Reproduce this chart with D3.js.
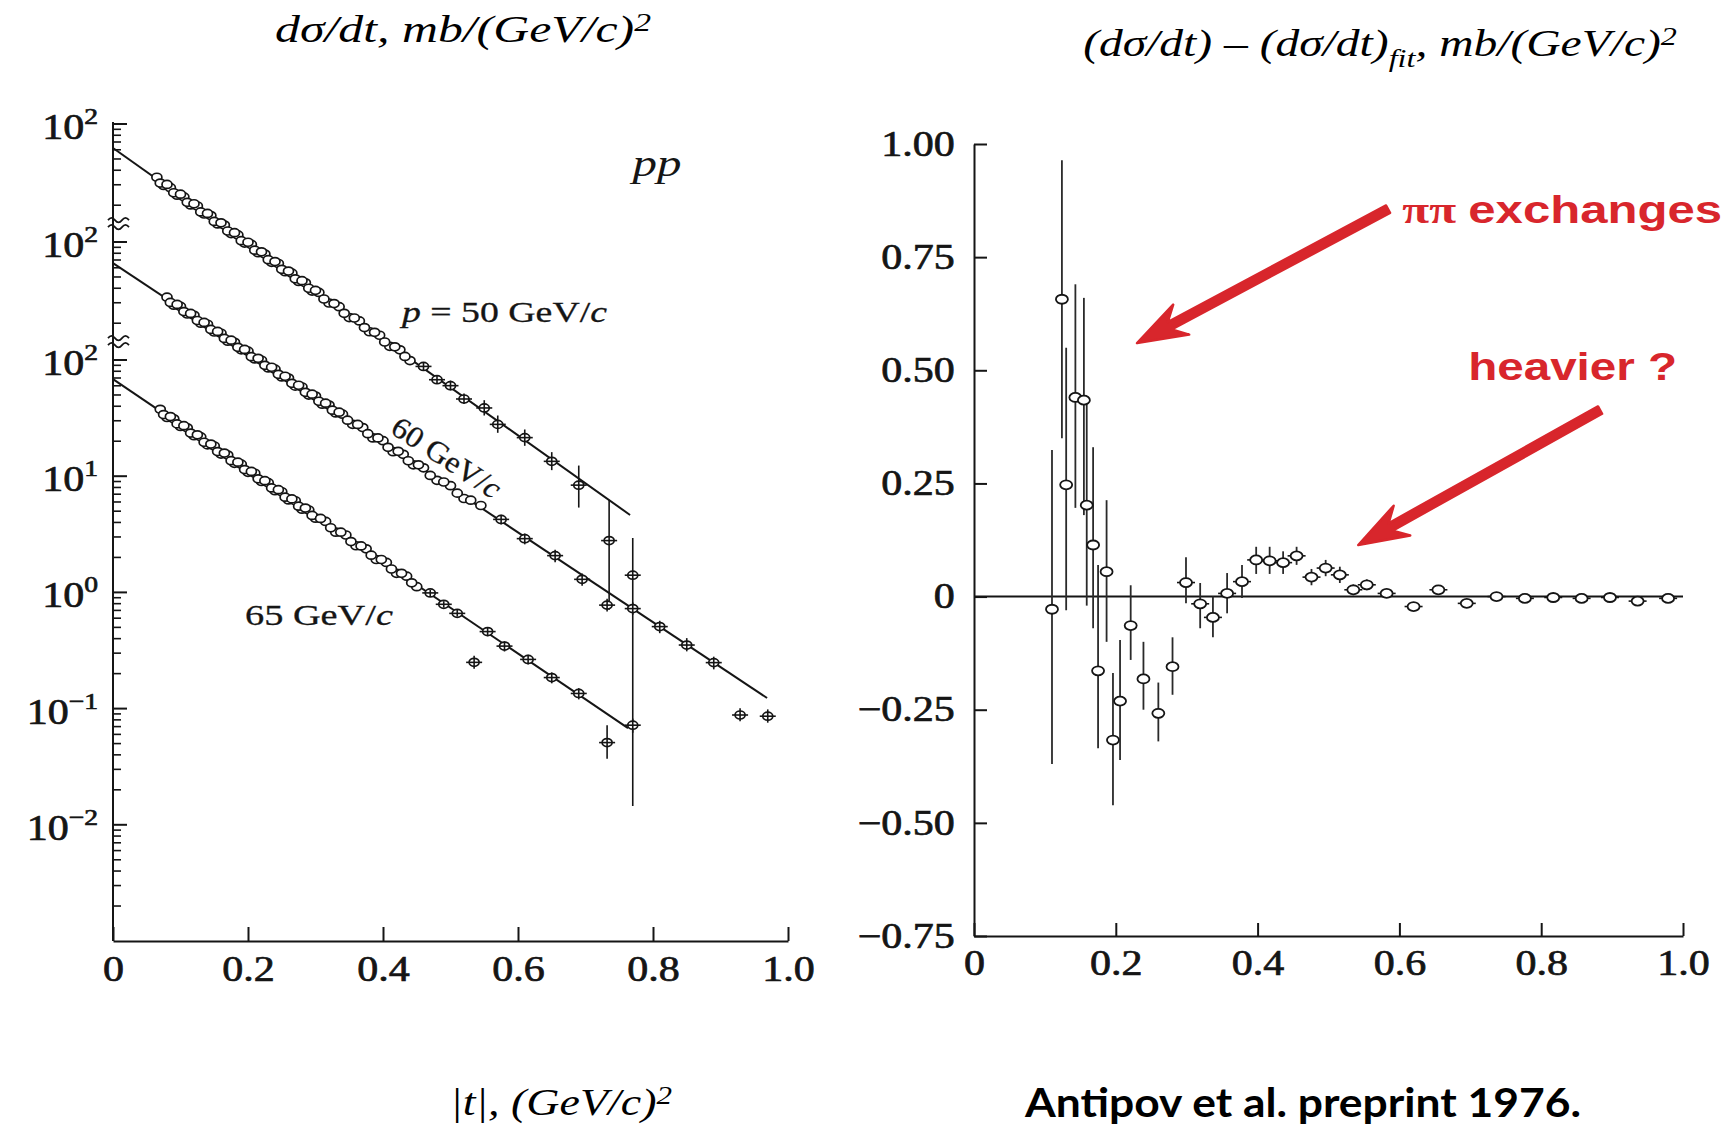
<!DOCTYPE html>
<html><head><meta charset="utf-8">
<script src="https://cdn.jsdelivr.net/npm/d3@7"></script>
<style>body{margin:0;background:#fff}svg{display:block}</style>
</head><body>
<svg id="c" width="1724" height="1128"></svg>
<script>
// ---------------- DATA ----------------
const ticksLeftX  = [0, 0.2, 0.4, 0.6, 0.8, 1.0];
const ticksRightX = [0, 0.2, 0.4, 0.6, 0.8, 1.0];
const ticksRightY = [-0.75, -0.5, -0.25, 0, 0.25, 0.5, 0.75, 1.0];
const labelExpMain = [2, 1, 0, -1, -2];   // labelled decades on the 65 GeV/c segment
const labelExpShifted = [2];              // labelled decade on the 50 and 60 GeV/c segments

// [ |t|, dσ/dt (mb/(GeV/c)^2), errLow, errHigh ]
const pp50 = [
 [0.065,34.8],[0.075,29.6],[0.085,28.3],[0.095,24.4],[0.105,23.6],[0.115,20.1],[0.125,19.7],[0.135,16.8],
 [0.145,16.3],[0.155,13.8],[0.165,13.5],[0.175,11.4],[0.185,11.1],[0.195,9.45],[0.205,9.2],[0.215,7.8],
 [0.225,7.6],[0.235,6.45],[0.245,6.3],[0.255,5.35],[0.265,5.2],[0.275,4.42],[0.285,4.3],[0.295,3.65],
 [0.305,3.55],[0.32,2.88],[0.335,2.68],[0.35,2.16],[0.365,2.02],[0.38,1.63],[0.395,1.52],[0.41,1.22],
 [0.425,1.14],[0.44,0.92],
 [0.07,31.0],[0.08,30.2],[0.09,25.6],[0.10,24.9],[0.11,21.2],[0.12,20.6],[0.13,17.5],[0.14,17.0],
 [0.15,14.5],[0.16,14.1],[0.17,12.0],[0.18,11.6],[0.19,9.9],[0.20,9.6],[0.21,8.2],[0.22,7.95],
 [0.23,6.8],[0.24,6.55],[0.25,5.62],[0.26,5.42],[0.27,4.65],[0.28,4.48],[0.29,3.86],[0.30,3.70],
 [0.3125,3.12],[0.3275,2.85],[0.3425,2.35],[0.3575,2.14],[0.3725,1.77],[0.3875,1.61],[0.4025,1.33],
 [0.4175,1.21],[0.4325,1.00],
 [0.46,0.82,0.76,0.88],[0.48,0.63,0.58,0.69],[0.50,0.56,0.51,0.62],[0.52,0.43,0.39,0.48],
 [0.55,0.36,0.31,0.42],[0.57,0.26,0.22,0.31],[0.61,0.20,0.17,0.235],[0.65,0.125,0.105,0.15],
 [0.69,0.078,0.05,0.115],[0.735,0.026,0.0066,0.058],[0.77,0.0131,0.000135,0.0274]
];
const pp60 = [
 [0.08,33.5],[0.09,28.6],[0.10,27.9],[0.11,24.0],[0.12,23.4],[0.13,20.0],[0.14,19.6],[0.15,16.8],
 [0.16,16.4],[0.17,14.0],[0.18,13.7],[0.19,11.8],[0.20,11.5],[0.21,9.85],[0.22,9.6],[0.23,8.25],
 [0.24,8.05],[0.25,6.9],[0.26,6.75],[0.27,5.75],[0.28,5.65],[0.29,4.82],[0.30,4.72],[0.31,4.02],
 [0.32,3.95],[0.33,3.38],[0.34,3.3],[0.355,2.7],[0.37,2.53],[0.385,2.06],[0.40,1.95],[0.415,1.57],
 [0.43,1.49],[0.445,1.21],[0.46,1.14],[0.48,0.89],[0.50,0.80],[0.52,0.62],[0.545,0.54],
 [0.085,30.2],[0.095,29.0],[0.105,25.2],[0.115,24.3],[0.125,21.1],[0.135,20.3],[0.145,17.7],[0.155,17.0],
 [0.165,14.8],[0.175,14.3],[0.185,12.4],[0.195,11.9],[0.205,10.3],[0.215,9.98],[0.225,8.68],[0.235,8.36],
 [0.245,7.27],[0.255,6.99],[0.265,6.08],[0.275,5.85],[0.285,5.09],[0.295,4.90],[0.305,4.26],[0.315,4.10],
 [0.325,3.57],[0.335,3.43],[0.3475,2.93],[0.3625,2.69],[0.3775,2.24],[0.3925,2.06],[0.4075,1.71],
 [0.4225,1.58],[0.4375,1.31],[0.4525,1.21],[0.47,0.98],[0.49,0.86],[0.51,0.69],[0.53,0.60],
 [0.575,0.41,0.37,0.45],[0.61,0.28,0.25,0.31],[0.655,0.20,0.175,0.225],[0.695,0.125,0.11,0.14],
 [0.732,0.075,0.066,0.085],[0.77,0.070,0.062,0.079],[0.81,0.049,0.043,0.055],[0.85,0.034,0.030,0.039],
 [0.89,0.024,0.021,0.027],[0.929,0.0085,0.0075,0.0097],[0.97,0.0083,0.0073,0.0095]
];
const pp65 = [
 [0.07,37.6],[0.08,32.0],[0.09,31.2],[0.10,26.8],[0.11,26.1],[0.12,22.3],[0.13,21.8],[0.14,18.6],
 [0.15,18.2],[0.16,15.5],[0.17,15.2],[0.18,12.9],[0.19,12.7],[0.20,10.8],[0.21,10.6],[0.22,9.0],
 [0.23,8.8],[0.24,7.5],[0.25,7.35],[0.26,6.25],[0.27,6.15],[0.28,5.2],[0.29,5.12],[0.30,4.35],
 [0.315,4.08],[0.33,3.3],[0.345,3.12],[0.36,2.52],[0.375,2.37],[0.39,1.92],[0.405,1.81],[0.42,1.46],
 [0.435,1.38],[0.45,1.12],
 [0.075,33.9],[0.085,32.6],[0.095,28.2],[0.105,27.2],[0.115,23.5],[0.125,22.7],[0.135,19.6],[0.145,18.9],
 [0.155,16.3],[0.165,15.8],[0.175,13.6],[0.185,13.2],[0.195,11.4],[0.205,11.0],[0.215,9.5],[0.225,9.15],
 [0.235,7.92],[0.245,7.65],[0.255,6.60],[0.265,6.38],[0.275,5.52],[0.285,5.32],[0.295,4.60],[0.3075,4.33],
 [0.3225,3.60],[0.3375,3.30],[0.3525,2.74],[0.3675,2.51],[0.3825,2.09],[0.3975,1.92],[0.4125,1.59],
 [0.4275,1.46],[0.4425,1.21],
 [0.47,0.99,0.93,1.05],[0.49,0.79,0.74,0.84],[0.51,0.66,0.62,0.71],[0.535,0.25,0.22,0.285],
 [0.555,0.46,0.42,0.50],[0.58,0.345,0.31,0.38],[0.615,0.265,0.24,0.29],[0.65,0.185,0.165,0.205],
 [0.69,0.135,0.12,0.15],[0.732,0.051,0.037,0.072],[0.77,0.072,0.062,0.082]
];
// fitted exponentials: [ |t|, dσ/dt ] end points
const fit50 = [[0, 62.1], [0.766, 0.0432]];
const fit60 = [[0, 65.9], [0.969, 0.0119]];
const fit65 = [[0, 68.5], [0.763, 0.068]];

// residuals (dσ/dt) − (dσ/dt)fit : [ |t|, value, errLow, errHigh ]
const resid = [
 [0.110,-0.028,-0.370,0.324],[0.124,0.657,0.350,0.964],[0.130,0.247,-0.030,0.550],
 [0.143,0.440,0.196,0.690],[0.155,0.434,0.180,0.660],[0.159,0.202,-0.020,0.440],
 [0.168,0.114,-0.070,0.330],[0.175,-0.164,-0.335,0.070],[0.187,0.055,-0.100,0.213],
 [0.196,-0.317,-0.461,-0.169],[0.206,-0.231,-0.361,-0.096],[0.221,-0.064,-0.140,0.025],
 [0.239,-0.182,-0.250,-0.100],[0.260,-0.258,-0.320,-0.190],[0.280,-0.155,-0.217,-0.090],
 [0.299,0.031,-0.015,0.087],[0.319,-0.016,-0.070,0.030],[0.337,-0.046,-0.090,0.000],
 [0.357,0.007,-0.037,0.052],[0.378,0.033,-0.003,0.070],[0.398,0.081,0.050,0.110],
 [0.417,0.079,0.050,0.110],[0.436,0.075,0.050,0.100],[0.455,0.090,0.070,0.110],
 [0.476,0.043,0.025,0.061],[0.496,0.063,0.045,0.081],[0.516,0.048,0.030,0.066],
 [0.535,0.015,0.003,0.027],[0.554,0.026,0.014,0.038],[0.582,0.007,-0.003,0.017],
 [0.620,-0.022,-0.032,-0.012],[0.655,0.015,0.005,0.025],[0.695,-0.015,-0.024,-0.006],
 [0.737,0.000,-0.008,0.008],[0.777,-0.004,-0.011,0.003],[0.817,-0.002,-0.009,0.005],
 [0.857,-0.004,-0.011,0.003],[0.897,-0.002,-0.008,0.004],[0.936,-0.010,-0.016,-0.004],
 [0.979,-0.004,-0.010,0.002]
];
// annotations anchored in residual-panel data coordinates
const arrows = [
  {from:[0.584,0.856], to:[0.230,0.560]},
  {from:[0.883,0.412], to:[0.542,0.114]}
];
const notes = [
  {at:[0.604,0.825], text:"exchanges", prefix:"ππ "},
  {at:[0.697,0.4785], text:"heavier ?", prefix:""}
];

// ---------------- DRAWING ----------------
const svg = d3.select("#c");
const SX = 1.2;
const serif = "'Liberation Serif','Times New Roman',serif";
const sans = "'Liberation Sans',Arial,sans-serif";
const ink = "#151515";
const red = "#d8262c";

function fmtX(d){ return d === 0 ? "0" : d3.format(".1f")(d); }
function fmtY(d){ return d === 0 ? "0" : (d < 0 ? "\u2212" : "") + Math.abs(d).toFixed(2); }

function styleAxis(g){
  g.attr("font-family", serif).attr("font-size", 35).attr("color", ink);
  g.select(".domain").attr("stroke-width", 2);
  g.selectAll(".tick line").attr("stroke-width", 2);
  g.selectAll(".tick text").attr("transform", `scale(${SX},1)`)
    .attr("stroke", "currentColor").attr("stroke-width", 0.7);
}

function rich(parent, x, y, anchor, parts, font, width, extra){
  const g = parent.append("g").attr("transform", `translate(${x},${y})${extra||""}`);
  const t = g.append("text").attr("text-anchor", anchor)
    .attr("font-family", font.family).attr("font-size", font.size)
    .attr("font-style", font.style || "normal").attr("font-weight", font.weight || "normal")
    .attr("fill", font.fill || ink);
  if (font.stroke) t.attr("stroke", font.fill || ink).attr("stroke-width", font.stroke);
  parts.forEach(p => {
    const ts = t.append("tspan").text(p.t);
    if (p.dy) ts.attr("dy", p.dy);
    if (p.fs) ts.attr("font-size", p.fs);
    if (p.st) ts.attr("font-style", p.st);
    if (p.ff) ts.attr("font-family", p.ff);
  });
  if (width) {
    const w = t.node().getComputedTextLength();
    t.attr("transform", `scale(${width / w},1)`);
  }
  return t;
}

// ===== Left panel =====
const xL = d3.scaleLinear().domain([0, 1]).range([113, 788]);
const yA = d3.scaleLog().domain([1e-3, 1e2]).range([941, 360]);  // 65 GeV/c
const yB = d3.scaleLog().domain([1e-3, 1e2]).range([823, 242]);  // 60 GeV/c
const yC = d3.scaleLog().domain([1e-3, 1e2]).range([705, 124]);  // 50 GeV/c

const L = svg.append("g");
const gxL = L.append("g").attr("transform", `translate(0,${yA(1e-3)})`)
  .call(d3.axisBottom(xL).tickValues(ticksLeftX).tickSizeInner(-14).tickSizeOuter(0)
        .tickPadding(15).tickFormat(fmtX));
styleAxis(gxL);

// broken log y-axis
L.append("line").attr("x1", xL(0)).attr("x2", xL(0)).attr("y1", yC(100) - 2).attr("y2", yA(1e-3))
  .attr("stroke", ink).attr("stroke-width", 2);
const segments = [
  {s: yC, vals: yC.ticks().filter(v => v >= 20), exps: labelExpShifted},
  {s: yB, vals: yB.ticks().filter(v => v >= 20), exps: labelExpShifted},
  {s: yA, vals: yA.ticks().filter(v => v > 1e-3), exps: labelExpMain}
];
segments.forEach(seg => {
  seg.vals.forEach(v => {
    const major = Math.abs(Math.log10(v) - Math.round(Math.log10(v))) < 1e-9;
    L.append("line").attr("x1", xL(0)).attr("x2", xL(0) + (major ? 14 : 8))
      .attr("y1", seg.s(v)).attr("y2", seg.s(v)).attr("stroke", ink).attr("stroke-width", major ? 2 : 1.6);
  });
  seg.exps.forEach(e => {
    const g = L.append("g").attr("transform", `translate(98,${seg.s(Math.pow(10, e)) + 15})`);
    const t = g.append("text").attr("text-anchor", "end").attr("font-family", serif)
      .attr("font-size", 35).attr("fill", ink).attr("stroke", ink).attr("stroke-width", 0.7)
      .attr("transform", `scale(${SX},1)`);
    t.append("tspan").text("10");
    t.append("tspan").attr("dy", -15).attr("font-size", 23).text(e < 0 ? "\u2212" + (-e) : String(e));
  });
});
// axis break marks
[(yC(20) + yB(100)) / 2, (yB(20) + yA(100)) / 2].forEach(yb => {
  [-3.5, 3.5].forEach(dd => {
    L.append("path").attr("d", `M${xL(0) - 5},${yb + dd} q3.5,-4.5 7,0 t7,0 t7,0`)
      .attr("fill", "none").attr("stroke", ink).attr("stroke-width", 1.7);
  });
});

const seriesDefs = [
  {data: pp50, fit: fit50, s: yC},
  {data: pp60, fit: fit60, s: yB},
  {data: pp65, fit: fit65, s: yA}
];
seriesDefs.forEach(sd => {
  L.append("path").attr("d", d3.line().x(d => xL(d[0])).y(d => sd.s(d[1]))(sd.fit))
    .attr("fill", "none").attr("stroke", ink).attr("stroke-width", 2);
  const pts = L.append("g");
  sd.data.forEach(d => {
    const cx = xL(d[0]), cy = sd.s(d[1]);
    pts.append("ellipse").attr("cx", cx).attr("cy", cy).attr("rx", 5).attr("ry", 4)
      .attr("fill", "#fff").attr("stroke", ink).attr("stroke-width", 1.7);
    if (d.length > 2) {
      pts.append("line").attr("x1", cx).attr("x2", cx).attr("y1", sd.s(d[2])).attr("y2", sd.s(d[3]))
        .attr("stroke", ink).attr("stroke-width", 1.6);
      pts.append("line").attr("x1", cx - 8).attr("x2", cx + 8).attr("y1", cy).attr("y2", cy)
        .attr("stroke", ink).attr("stroke-width", 1.6);
    }
  });
});

// in-plot texts of the left panel
const figFont = {family: serif, size: 30, stroke: 0.3};
rich(L, 657, 176, "middle", [{t: "pp"}], {family: serif, size: 38, style: "italic"}, 49);
rich(L, 402, 322, "start",
  [{t: "p", st: "italic"}, {t: " = 50 GeV/"}, {t: "c", st: "italic"}], figFont, 205);
rich(L, 441, 466, "middle",
  [{t: "60 GeV/"}, {t: "c", st: "italic"}], figFont, 124, " rotate(33)");
rich(L, 245, 625, "start",
  [{t: "65 GeV/"}, {t: "c", st: "italic"}], {family: serif, size: 29, stroke: 0.3}, 148);

// ===== Right panel =====
const xR = d3.scaleLinear().domain([0, 1]).range([974, 1683]);
const yR = d3.scaleLinear().domain([-0.75, 1]).range([936, 144]);
const R = svg.append("g");
const gxR = R.append("g").attr("transform", `translate(0,${yR(-0.75)})`)
  .call(d3.axisBottom(xR).tickValues(ticksRightX).tickSizeInner(-13).tickSizeOuter(0)
        .tickPadding(14).tickFormat(fmtX));
styleAxis(gxR);
const gyR = R.append("g").attr("transform", `translate(${xR(0)},0)`)
  .call(d3.axisLeft(yR).tickValues(ticksRightY).tickSizeInner(-13).tickSizeOuter(0)
        .tickPadding(16).tickFormat(fmtY));
styleAxis(gyR);
// zero (fit) line
R.append("line").attr("x1", xR(0)).attr("x2", xR(1)).attr("y1", yR(0)).attr("y2", yR(0))
  .attr("stroke", ink).attr("stroke-width", 2);
const rp = R.append("g");
resid.forEach(d => {
  const cx = xR(d[0]), cy = yR(d[1]);
  rp.append("line").attr("x1", cx).attr("x2", cx).attr("y1", yR(d[2])).attr("y2", yR(d[3]))
    .attr("stroke", "#2a2a2a").attr("stroke-width", 1.8);
  if (d[0] > 0.29) {
    rp.append("line").attr("x1", cx - 9).attr("x2", cx + 9).attr("y1", cy).attr("y2", cy)
      .attr("stroke", ink).attr("stroke-width", 1.6);
  }
});
resid.forEach(d => {
  rp.append("ellipse").attr("cx", xR(d[0])).attr("cy", yR(d[1])).attr("rx", 6).attr("ry", 4.5)
    .attr("fill", "#fff").attr("stroke", ink).attr("stroke-width", 1.8);
});

// red annotations
arrows.forEach(a => {
  const S = [xR(a.from[0]), yR(a.from[1])], T = [xR(a.to[0]), yR(a.to[1])];
  const dx = S[0] - T[0], dy = S[1] - T[1], len = Math.hypot(dx, dy);
  const u = [dx / len, dy / len], n = [-u[1], u[0]];
  const Lh = 50, W = 17, hw = 4.2;
  const p = (base, ku, kn) => [base[0] + u[0] * ku + n[0] * kn, base[1] + u[1] * ku + n[1] * kn];
  const poly = [T, p(T, Lh, W), p(T, Lh * 0.74, hw), p(S, 0, hw), p(S, 0, -hw), p(T, Lh * 0.74, -hw), p(T, Lh, -W)];
  R.append("path").attr("d", "M" + poly.map(q => q.join(",")).join("L") + "Z")
    .attr("fill", red).attr("stroke", red).attr("stroke-width", 2.5).attr("stroke-linejoin", "round");
});
rich(R, xR(notes[0].at[0]), yR(notes[0].at[1]), "start",
  [{t: notes[0].prefix, ff: serif}, {t: notes[0].text}],
  {family: sans, size: 38, weight: "bold", fill: red}, 320);
rich(R, xR(notes[1].at[0]), yR(notes[1].at[1]), "start",
  [{t: notes[1].text}], {family: sans, size: 38, weight: "bold", fill: red}, 209);

// ===== Titles =====
const titleFont = {family: serif, size: 37, style: "italic", fill: "#000"};
rich(svg, 463, 42, "middle", [{t: "dσ/dt, mb/(GeV/c)"}, {t: "2", dy: -11, fs: 25}], titleFont, 376);
rich(svg, 1380, 56, "middle",
  [{t: "(dσ/dt) – (dσ/dt)"}, {t: "fit", dy: 11, fs: 25}, {t: ", mb/(GeV/c)", dy: -11},
   {t: "2", dy: -11, fs: 25}], titleFont, 594);
rich(svg, 561, 1115, "middle", [{t: "|t|, (GeV/c)"}, {t: "2", dy: -11, fs: 25}], titleFont, 222);
rich(svg, 1303, 1117, "middle", [{t: "Antipov et al. preprint 1976."}],
  {family: "Lato,'Open Sans',sans-serif", size: 41, weight: "bold", fill: "#000"}, 556);
</script>
</body></html>
